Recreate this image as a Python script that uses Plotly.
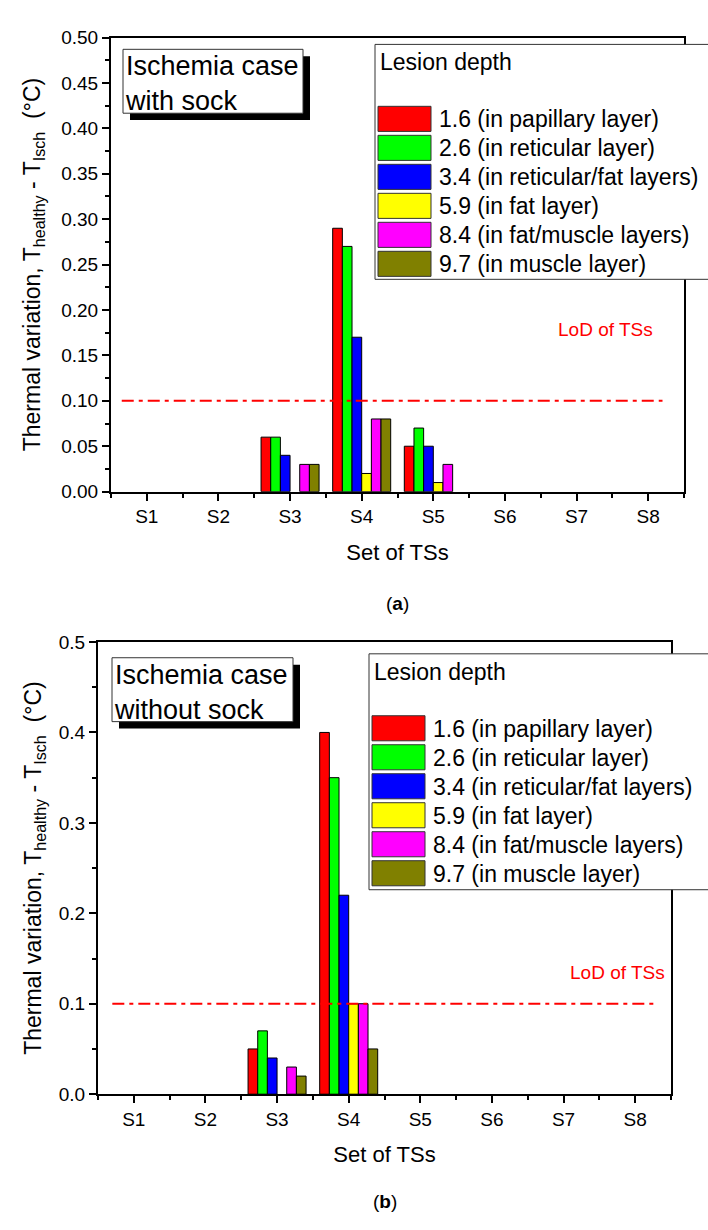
import plotly.graph_objects as go

W, H = 708, 1230
FONT = "Liberation Sans, Arial, sans-serif"

# ---------------- data ----------------
sets = ["S1", "S2", "S3", "S4", "S5", "S6", "S7", "S8"]
set_pos = [1, 2, 3, 4, 5, 6, 7, 8]

depth_labels = [
    "1.6 (in papillary layer)",
    "2.6 (in reticular layer)",
    "3.4 (in reticular/fat layers)",
    "5.9 (in fat layer)",
    "8.4 (in fat/muscle layers)",
    "9.7 (in muscle layer)",
]
depth_colors = ["#FF0000", "#00FF00", "#0000FF", "#FFFF00", "#FF00FF", "#808000"]

# (a) Ischemia case with sock
sock_d16 = [0, 0, 0.06, 0.29, 0.05, 0, 0, 0]
sock_d26 = [0, 0, 0.06, 0.27, 0.07, 0, 0, 0]
sock_d34 = [0, 0, 0.04, 0.17, 0.05, 0, 0, 0]
sock_d59 = [0, 0, 0.00, 0.02, 0.01, 0, 0, 0]
sock_d84 = [0, 0, 0.03, 0.08, 0.03, 0, 0, 0]
sock_d97 = [0, 0, 0.03, 0.08, 0.00, 0, 0, 0]

# (b) Ischemia case without sock
nosock_d16 = [0, 0, 0.05, 0.40, 0, 0, 0, 0]
nosock_d26 = [0, 0, 0.07, 0.35, 0, 0, 0, 0]
nosock_d34 = [0, 0, 0.04, 0.22, 0, 0, 0, 0]
nosock_d59 = [0, 0, 0.00, 0.10, 0, 0, 0, 0]
nosock_d84 = [0, 0, 0.03, 0.10, 0, 0, 0, 0]
nosock_d97 = [0, 0, 0.02, 0.05, 0, 0, 0, 0]

lod_value = 0.1
lod_span_a = [0.65, 8.2]
lod_span_b = [0.7, 8.3]

panel_a_series = [sock_d16, sock_d26, sock_d34, sock_d59, sock_d84, sock_d97]
panel_b_series = [nosock_d16, nosock_d26, nosock_d34, nosock_d59, nosock_d84, nosock_d97]

# ---------------- layout helpers (pixel -> paper) ----------------
def px(v):
    return v / W

def py(v):
    return 1 - v / H

# panel pixel boxes: left, right, top, bottom
A = dict(l=111, r=684, t=28, b=490)
B = dict(l=98, r=671, t=643, b=1103)

fig = go.Figure()

for series, xa, ya in ((panel_a_series, "x", "y"), (panel_b_series, "x2", "y2")):
    for vals, name, col in zip(series, depth_labels, depth_colors):
        fig.add_trace(go.Bar(
            x=set_pos, y=[v if v else None for v in vals], name=name, xaxis=xa, yaxis=ya,
            marker=dict(color=col, line=dict(color="#000000", width=1)),
            showlegend=False,
        ))

axis_common = dict(
    showline=True, linecolor="black", linewidth=2, mirror=True,
    showgrid=False, zeroline=False, ticks="outside", ticklen=7,
    tickwidth=2, tickcolor="black",
    tickfont=dict(family=FONT, size=19, color="black"),
)

xaxis_common = dict(axis_common, range=[0.5, 8.5], tickmode="array",
                    tickvals=set_pos, ticktext=sets,
                    minor=dict(tickmode="array", tickvals=[p - 0.5 for p in set_pos] + [8.5],
                               ticklen=4, tickwidth=2, tickcolor="black", ticks="outside"),
                    title=dict(text="Set of TSs", font=dict(family=FONT, size=22, color="black"),
                               standoff=18))

ytitle = "Thermal variation, T<sub>healthy</sub> - T<sub>Isch</sub>  (°C)"

fig.update_layout(
    width=W, height=H, margin=dict(l=0, r=0, t=0, b=0),
    paper_bgcolor="white", plot_bgcolor="white",
    barmode="group", bargap=0.19, bargroupgap=0,
    showlegend=False,
    xaxis=dict(xaxis_common, domain=[px(A["l"]), px(A["r"])], anchor="y"),
    yaxis=dict(axis_common, domain=[py(A["b"]), py(A["t"])], anchor="x",
               range=[0, 0.5], dtick=0.05, tickformat=".2f",
               minor=dict(dtick=0.025, ticklen=4, tickwidth=2, tickcolor="black", ticks="outside"),
               title=dict(text=ytitle, font=dict(family=FONT, size=23, color="black"), standoff=14)),
    xaxis2=dict(xaxis_common, domain=[px(B["l"]), px(B["r"])], anchor="y2"),
    yaxis2=dict(axis_common, domain=[py(B["b"]), py(B["t"])], anchor="x2",
                range=[0, 0.5], dtick=0.1, tickformat=".1f",
                minor=dict(dtick=0.05, ticklen=4, tickwidth=2, tickcolor="black", ticks="outside"),
                title=dict(text=ytitle, font=dict(family=FONT, size=23, color="black"), standoff=11)),
)

shapes = []
annotations = []

# LoD lines
for span, xr, yr in ((lod_span_a, "x", "y"), (lod_span_b, "x2", "y2")):
    shapes.append(dict(type="line", xref=xr, yref=yr, x0=span[0], x1=span[1],
                       y0=lod_value, y1=lod_value,
                       line=dict(color="#FF0000", width=2, dash="12px,5px,4px,5px")))

annotations.append(dict(xref="x", yref="y", x=7.4, y=0.178, text="LoD of TSs", showarrow=False,
                        font=dict(family=FONT, size=19, color="#FF0000")))
annotations.append(dict(xref="x2", yref="y2", x=7.75, y=0.135, text="LoD of TSs", showarrow=False,
                        font=dict(family=FONT, size=19, color="#FF0000")))

# case text boxes with drop shadow
def case_box(left, top, width, height, text):
    shapes.append(dict(type="rect", xref="paper", yref="paper",
                       x0=px(left + 7), x1=px(left + width + 7), y0=py(top + height + 7), y1=py(top + 7),
                       fillcolor="black", line=dict(width=0)))
    shapes.append(dict(type="rect", xref="paper", yref="paper",
                       x0=px(left), x1=px(left + width), y0=py(top + height), y1=py(top),
                       fillcolor="white", line=dict(color="#333333", width=1)))
    annotations.append(dict(xref="paper", yref="paper", x=px(left), y=py(top),
                            xanchor="left", yanchor="top", align="left", showarrow=False,
                            text=text, font=dict(family=FONT, size=27, color="black")))

case_box(A["l"] + 12, A["t"] + 12, 180, 65, "Ischemia case<br>with sock")
case_box(B["l"] + 14, B["t"] + 16, 181, 65, "Ischemia case<br>without sock")

# legends (drawn from the label / colour arrays)
def legend_box(left, top, bottom):
    shapes.append(dict(type="rect", xref="paper", yref="paper",
                       x0=px(left), x1=px(W + 2), y0=py(bottom), y1=py(top),
                       fillcolor="white", line=dict(color="#333333", width=1)))
    annotations.append(dict(xref="paper", yref="paper", x=px(left + 3), y=py(top + 18),
                            xanchor="left", yanchor="middle", showarrow=False,
                            text="Lesion depth", font=dict(family=FONT, size=23, color="black")))
    for i, (name, col) in enumerate(zip(depth_labels, depth_colors)):
        t = top + 63 + i * 29.5
        shapes.append(dict(type="rect", xref="paper", yref="paper",
                           x0=px(left + 3), x1=px(left + 56), y0=py(t + 25.5), y1=py(t),
                           fillcolor=col, line=dict(color="#333333", width=1)))
        annotations.append(dict(xref="paper", yref="paper", x=px(left + 62), y=py(t + 13),
                                xanchor="left", yanchor="middle", showarrow=False,
                                text=name, font=dict(family=FONT, size=23, color="black")))

legend_box(375, 35, 274)
legend_box(369, 655, 895)

# captions
annotations.append(dict(xref="paper", yref="paper", x=px((A["l"] + A["r"]) / 2), y=py(604),
                        text="(<b>a</b>)", showarrow=False, xanchor="center", yanchor="middle",
                        font=dict(family=FONT, size=19, color="black")))
annotations.append(dict(xref="paper", yref="paper", x=px((B["l"] + B["r"]) / 2), y=py(1212),
                        text="(<b>b</b>)", showarrow=False, xanchor="center", yanchor="middle",
                        font=dict(family=FONT, size=19, color="black")))

fig.update_layout(shapes=shapes, annotations=annotations)

fig.write_html("out.html")
